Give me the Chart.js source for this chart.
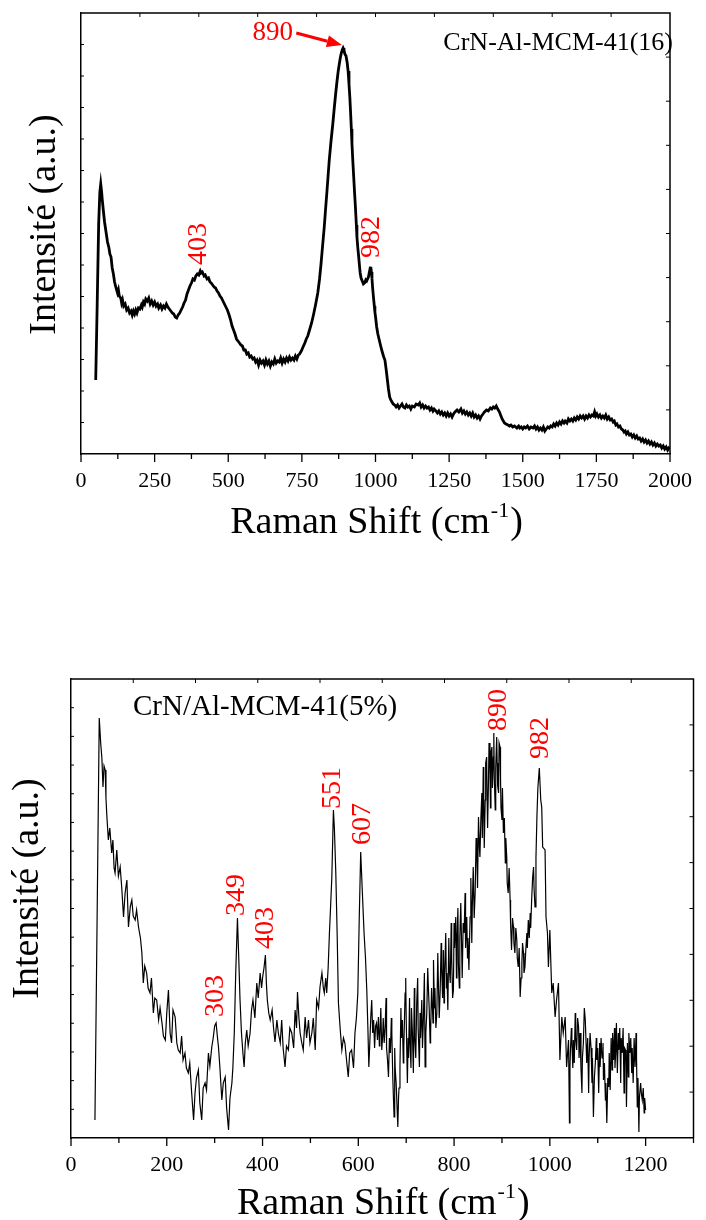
<!DOCTYPE html>
<html>
<head>
<meta charset="utf-8">
<script src="https://cdn.jsdelivr.net/npm/chart.js@4.4.1/dist/chart.umd.min.js"></script>
<style>
  html, body { margin: 0; padding: 0; background: #fff; }
  body { width: 706px; height: 1220px; position: relative; overflow: hidden; }
  canvas { position: absolute; left: 0; }
  #c1 { top: 0; }
  #c2 { top: 600px; }
</style>
</head>
<body>
<canvas id="c1" width="706" height="560"></canvas>
<canvas id="c2" width="706" height="620"></canvas>
<script>
// ---------- Data: top spectrum CrN-Al-MCM-41(16)  [Raman shift, intensity (a.u.)] ----------
const topSpectrum = [
[50,74],[55,150],[60,230],[64,262],[67,270],[70,262],[72,255],[76,243],[80,232],[85,222],[90,212],[95,206],[98,200],[102,197],[106,186],[110,180],[114,172],[119,166],[124,161],[127,164],[130,158],[135,156],[138,151],[141,154],[145,148],[150,150],[155,144],[160,146],[165,141],[170,143],[174,139],[178,143],[182,140],[186,144],[190,141],[195,146],[200,145],[205,149],[208,147],[212,152],[216,150],[220,155],[225,153],[230,156],[235,150],[240,153],[245,149],[250,152],[255,148],[260,150],[264,146],[270,149],[275,145],[280,148],[285,146],[290,150],[295,147],[300,145],[305,143],[310,141],[315,140],[320,137],[325,136],[330,139],[335,141],[340,144],[345,147],[350,151],[355,154],[360,160],[365,164],[370,168],[375,171],[380,175],[385,174],[390,178],[395,180],[400,179],[405,183],[408,181],[412,182],[418,178],[422,179],[428,175],[433,176],[438,172],[442,171],[447,169],[452,167],[457,166],[462,163],[467,161],[472,158],[477,156],[482,153],[487,150],[492,147],[497,144],[503,139],[508,134],[513,128],[518,124],[523,120],[528,115],[533,113],[538,111],[543,109],[548,108],[553,104],[558,104],[563,100],[568,101],[573,97],[578,98],[583,95],[588,96],[593,92],[598,94],[603,89],[608,94],[613,91],[618,93],[623,89],[628,94],[633,90],[638,93],[643,88],[648,92],[653,90],[658,95],[663,91],[668,93],[673,92],[678,96],[683,91],[688,95],[693,92],[698,96],[703,93],[708,97],[713,94],[718,96],[723,94],[728,98],[733,95],[738,99],[742,100],[748,103],[754,107],[760,111],[765,115],[770,118],[776,124],[783,131],[790,140],[797,150],[804,161],[810,175],[815,190],[820,207],[826,227],[830,243],[835,262],[839,278],[843,294],[849,313],[855,330],[860,346],[865,361],[869,372],[873,382],[877,390],[881,397],[884,401],[887,404],[890,406],[893,404],[896,400],[900,398],[904,391],[907,383],[910,370],[913,356],[915,344],[918,325],[920,311],[923,293],[926,277],[929,261],[932,246],[935,229],[937,217],[940,206],[943,197],[946,187],[948,181],[951,176],[955,173],[959,170],[963,171],[967,174],[970,173],[973,175],[976,177],[980,183],[982,186],[984,187],[986,182],[988,176],[990,167],[993,157],[996,148],[998,142],[1001,135],[1004,127],[1008,120],[1012,115],[1016,110],[1021,104],[1025,100],[1028,97],[1032,94],[1036,85],[1040,75],[1044,65],[1048,57],[1052,54],[1056,52],[1060,50],[1065,49],[1070,47],[1075,49],[1080,46],[1085,48],[1090,50],[1095,47],[1100,46],[1105,49],[1110,47],[1115,48],[1120,45],[1125,48],[1132,47],[1138,50],[1145,49],[1150,51],[1155,47],[1160,49],[1165,46],[1170,48],[1175,46],[1180,47],[1185,44],[1190,46],[1195,43],[1199,45],[1205,43],[1210,41],[1215,43],[1220,40],[1225,42],[1230,39],[1235,41],[1240,38],[1245,41],[1250,38],[1255,40],[1260,37],[1265,40],[1270,42],[1277,44],[1283,42],[1290,45],[1295,41],[1300,43],[1305,40],[1310,42],[1315,39],[1320,41],[1325,38],[1330,41],[1335,37],[1340,39],[1345,36],[1350,38],[1355,35],[1360,38],[1365,40],[1370,42],[1377,44],[1383,43],[1390,46],[1395,45],[1400,47],[1405,46],[1410,48],[1415,45],[1421,42],[1426,38],[1430,35],[1434,33],[1438,31],[1443,30],[1450,29],[1455,28],[1460,29],[1466,27],[1472,28],[1480,26],[1486,28],[1490,26],[1495,27],[1500,25],[1505,27],[1510,26],[1516,28],[1522,25],[1528,27],[1535,26],[1540,28],[1545,25],[1550,27],[1555,24],[1560,26],[1565,24],[1570,27],[1575,23],[1580,25],[1585,27],[1590,26],[1595,28],[1600,27],[1605,30],[1610,28],[1615,31],[1620,29],[1625,32],[1630,30],[1635,33],[1640,31],[1644,33],[1650,31],[1655,35],[1660,33],[1665,35],[1670,33],[1675,36],[1680,34],[1685,37],[1690,35],[1695,38],[1700,36],[1705,38],[1710,35],[1715,38],[1720,36],[1725,39],[1730,37],[1735,39],[1740,38],[1744,42],[1748,38],[1752,40],[1757,37],[1762,39],[1767,36],[1772,38],[1777,36],[1782,39],[1787,35],[1792,37],[1797,34],[1802,35],[1807,32],[1811,33],[1816,29],[1820,30],[1825,27],[1830,28],[1835,25],[1840,24],[1844,22],[1848,23],[1852,20],[1857,22],[1862,19],[1867,20],[1872,17],[1877,19],[1882,16],[1887,18],[1892,15],[1897,16],[1902,13],[1907,15],[1912,12],[1917,14],[1922,11],[1927,13],[1932,10],[1937,12],[1942,9],[1947,11],[1952,8],[1957,10],[1962,8],[1967,9],[1972,6],[1977,8],[1982,5],[1987,7],[1992,4],[1996,6],[2000,5]
];

// ---------- Data: bottom spectrum CrN/Al-MCM-41(5%)  [Raman shift, intensity (a.u.)] ----------
const botSpectrum = [
[50,18],[59,420],[62,395],[64.5,380],[66.8,351],[69,372],[71.4,368],[73,340],[75,321],[78,298],[81,310],[85,285],[87.5,298],[90,270],[92,265],[95.6,288],[99,262],[102.7,271],[106,250],[109.7,221],[113,245],[116.7,258],[120,211],[124,232],[127,238],[130,222],[134,218],[137,228],[141,211],[145,200],[148,185],[151,155],[154,172],[158,165],[161,150],[165,145],[168,160],[172,125],[175,140],[179,138],[183,118],[186,130],[190,115],[193,102],[197,98],[200,125],[203.5,148],[207,105],[210,95],[213,128],[217.5,121],[221,95],[224,88],[228,85],[231,102],[234,78],[238,85],[241,70],[245,65],[248,75],[252,45],[256,18],[259,45],[262,60],[266,68],[269,35],[273,18],[276,50],[280,55],[283,48],[287,85],[290,72],[294,91],[297,100],[300,112],[303,115],[306,100],[308,91],[311,70],[315,38],[318,55],[322,61],[325,30],[329,8],[332,40],[336,55],[338,70],[341,105],[344,165],[347.6,220],[350,185],[353,138],[356,105],[359,85],[361.6,71],[364,95],[367,108],[370,92],[374,105],[377,128],[380,138],[384,120],[388,155],[391,140],[395,165],[398,150],[400,160],[403,170],[406,183],[408,155],[410,138],[413,125],[416,118],[420,128],[423,110],[426,96],[430,118],[433,105],[437,95],[440,118],[443,90],[447,71],[450,92],[454,88],[457,110],[461,105],[465,90],[468,128],[471,110],[473,146],[476,120],[478.5,105],[482,95],[485,88],[489,121],[492,100],[496,118],[499,95],[503,105],[506,120],[510,88],[513,138],[517,130],[520,151],[524,165],[527,150],[529,145],[532,160],[534,145],[537,170],[539.7,205],[542,230],[544.7,261],[548,328],[550,310],[553,265],[556,200],[558.5,135],[562,110],[565.6,88],[569,100],[572,95],[575,80],[579,61],[582,85],[586,88],[590,70],[593,105],[596,120],[599,145],[602,221],[605,286],[608.5,245],[612,205],[615,180],[617.7,148],
[620,110],[622,71],[624,95],[626,120],[628,138],[630,105],[632,118],[634,90],[636,112],[638,115],[640,98],[642,121],[644,92],[645,100],[647,130],[649,88],[651,104],[652,120],[654,95],[656,111],[658,140],[659,90],[661,78],[663,61],[665,100],[667,85],[669,120],[670,105],[672,60],[674.7,21],[676,90],[677,70],[679,55],[681,30],[682.5,11],[684,40],[685,50],[687,71],[689,130],[690,100],[692,118],[694,75],[695,90],[697.7,145],[699,160],[700,120],[702.5,55],[704,100],[705,80],[707,140],[708,95],[710,70],[711,130],[713,105],[715,65],[717,150],[718,100],[720,80],[722,135],[724,160],[725,110],[727.6,71],[729,125],[730,100],[732.6,138],[734,90],[736,120],[738,165],[739.5,71],[741,105],[743,125],[745,170],[746,155],[748,130],[750,95],[751,105],[753,150],[754,140],[756,115],[757,178],[759,130],[760,150],[762,110],[764,125],[766,185],[767,160],[769,120],[771,148],[773,195],[774,170],[776,140],[777.6,188],[779,135],[780,160],[782.6,205],[784,150],[785,165],[787,128],[789,200],[790,170],[792,155],[794,215],[795,180],[797,140],[798.6,148],[800,215],[801,190],[803.5,221],[805,160],[806,195],[808,230],[809,175],[811,150],[812,200],[814,235],[816,185],[817,160],[819,215],[821,205],[823,245],[824,190],[826.5,221],[828,180],[829,200],[831,168],[833.4,221],[835,260],[837,195],[838,230],[840,271],[842,220],[844,245],[846,300],[847.6,281],[849,250],[851,321],[853,290],[854,281],[856,320],[858,345],
[859,300],[861,371],[862,330],[863,290],[865,338],[866,375],[868,381],[869,340],[870,310],[872,361],[873,395],[875,368],[876,330],[877,385],[879,391],[880,350],[882,381],[883,405],[884,360],[886,328],[887,370],[889,401],[890,375],[891,352],[893,345],[894,395],[896,391],[897,360],[898,330],[900,318],[901,350],[903,305],[905,320],[907,275],[908,300],[910,281],[911,255],[913,245],[915,270],[917,238],[918,215],[920,188],[922,220],[924,211],[925,195],[927,185],[929,210],[931,198],[932,180],[934,171],[936,190],[938,141],[940,160],[941.6,175],[943,195],[945,185],[946,165],[948,171],[950,190],[952,205],[953,190],[955,218],[957,200],[959,225],[960,210],[962,238],[964,260],[966,271],[967,250],[969,231],[971,280],[973,321],[975,350],[978,370],[981,338],[983,331],[985,291],[990,288],[992,221],[995,205],[997,171],[1000,208],[1004,145],[1007,155],[1011,121],[1014,138],[1018,155],[1021,78],[1025,121],[1028,105],[1032,121],[1035,71],[1039,98],
[1041,15],[1042,70],[1043,88],[1045,110],[1046,95],[1048,70],[1049,98],[1051,75],[1053,125],[1054,100],[1056,88],[1058,120],[1060,111],[1061,80],[1063,105],[1065,70],[1067,45],[1068,80],[1070,95],[1072,130],[1074,118],[1076,90],[1077,75],[1079,100],[1081,45],[1082,80],[1084,105],[1086,90],[1088,55],[1089,80],[1091,21],[1093,60],[1095,75],[1097,100],[1098,78],[1100,90],[1102,45],[1104,95],[1105,71],[1107,100],[1109,80],[1111,95],[1112,58],[1114,75],[1116,38],[1117,55],[1119,15],[1121,60],[1123,51],[1124,85],[1126,48],[1128,100],[1130,68],[1131,105],[1133,78],[1135,110],[1136,70],[1138,91],[1139,115],[1141,65],[1143,105],[1144,88],[1146,110],[1148,55],[1149,100],[1151,85],[1153,110],[1155,45],[1156,90],[1158,88],[1159,70],[1160,31],[1162,95],[1164,61],[1165,105],[1167,85],[1169,100],[1171,65],[1172,90],[1174,55],[1176,100],[1178,71],[1180,105],[1181,80],[1182.6,31],[1184,60],[1186,6],[1187,40],[1189.6,55],[1191,45],[1193,38],[1195,50],[1197,25],[1198,40],[1200,28]
];

// ---------- Axis ranges / tick steps ----------
const topXTicks = { min: 0, max: 2000, major: 250, minor: 125 };
const botXTicks = { min: 0, max: 1300, major: 200, minor: 100 };
const topYRange = { min: 0, max: 441 };
const botYRange = { min: 0, max: 459 };

// ---------- Text ----------
const xTitle = 'Raman Shift (cm';
const xTitleSup = '-1';
const yTitle = 'Intensité (a.u.)';
const topSample = 'CrN-Al-MCM-41(16)';
const botSample = 'CrN/Al-MCM-41(5%)';
// peak labels: [text, x-value, y-value of text centre]
const topPeakLabels = [['403', 401, 210], ['982', 988, 217]];
const topArrowLabel = ['890', 651, 421];
const topArrow = { from: [731, 421], to: [886, 409] };
const botPeakLabels = [['303', 302, 142], ['349', 345, 243], ['403', 407, 210], ['551', 546, 350], ['607', 610, 314], ['890', 894, 428], ['982', 981, 400]];

const SERIF = "'Liberation Serif', 'Times New Roman', serif";

const framePlugin = {
  id: 'frame',
  afterDraw(chart, args, o) {
    const ctx = chart.ctx;
    const a = chart.chartArea;
    const xs = chart.scales.x, ys = chart.scales.y;
    ctx.save();
    ctx.strokeStyle = '#000';
    ctx.lineWidth = 1.5;
    ctx.beginPath();
    ctx.moveTo(a.left, a.top); ctx.lineTo(a.right, a.top); ctx.lineTo(a.right, a.bottom);
    ctx.stroke();
    ctx.lineWidth = 1.3;
    for (let v = o.xt.min; v <= o.xt.max + 1e-6; v += o.xt.minor) {
      const px = xs.getPixelForValue(v);
      const major = Math.abs(v / o.xt.major - Math.round(v / o.xt.major)) < 1e-6;
      ctx.beginPath();
      ctx.moveTo(px, a.bottom); ctx.lineTo(px, a.bottom + (major ? 8 : 5));
      ctx.stroke();
    }
    ctx.lineWidth = 1;
    for (let i = 1; i < o.topDiv; i++) {
      const px = a.left + (a.right - a.left) * i / o.topDiv;
      ctx.beginPath(); ctx.moveTo(px, a.top); ctx.lineTo(px, a.top + 4); ctx.stroke();
    }
    for (let i = 1; i < o.rightDiv; i++) {
      const py = a.top + (a.bottom - a.top) * i / o.rightDiv;
      ctx.beginPath(); ctx.moveTo(a.right, py); ctx.lineTo(a.right - 4, py); ctx.stroke();
    }
    for (let i = 1; i < o.leftDiv; i++) {
      const py = a.top + (a.bottom - a.top) * i / o.leftDiv;
      ctx.beginPath(); ctx.moveTo(a.left, py); ctx.lineTo(a.left + 3, py); ctx.stroke();
    }

    // axis titles
    ctx.fillStyle = '#000';
    ctx.font = '38px ' + SERIF;
    const w1 = ctx.measureText(xTitle).width;
    ctx.font = '22px ' + SERIF;
    const w2 = ctx.measureText(xTitleSup).width;
    ctx.font = '38px ' + SERIF;
    const w3 = ctx.measureText(')').width;
    const cx = (a.left + a.right) / 2;
    const sx = cx - (w1 + w2 + w3) / 2;
    const by = a.bottom + o.xTitleOffset;
    ctx.textAlign = 'left'; ctx.textBaseline = 'alphabetic';
    ctx.fillText(xTitle, sx, by);
    ctx.font = '22px ' + SERIF;
    ctx.fillText(xTitleSup, sx + w1 + 1, by - 16);
    ctx.font = '38px ' + SERIF;
    ctx.fillText(')', sx + w1 + w2 + 2, by);

    ctx.save();
    ctx.translate(o.yTitleX, (a.top + a.bottom) / 2 + o.yTitleDy);
    ctx.rotate(-Math.PI / 2);
    ctx.textAlign = 'center'; ctx.textBaseline = 'middle';
    ctx.font = '38px ' + SERIF;
    ctx.fillText(yTitle, 0, 0);
    ctx.restore();

    // sample label
    ctx.font = o.sampleSize + 'px ' + SERIF;
    ctx.textAlign = o.sampleAlign; ctx.textBaseline = 'alphabetic';
    ctx.fillText(o.sample, o.sampleX, o.sampleY);

    // red peak labels (rotated)
    ctx.fillStyle = '#ff0000';
    ctx.font = '28px ' + SERIF;
    for (const [t, vx, vy] of o.peaks) {
      ctx.save();
      ctx.translate(xs.getPixelForValue(vx), ys.getPixelForValue(vy));
      ctx.rotate(-Math.PI / 2);
      ctx.textAlign = 'center'; ctx.textBaseline = 'middle';
      ctx.fillText(t, 0, 0);
      ctx.restore();
    }
    if (o.arrowLabel) {
      const [t, vx, vy] = o.arrowLabel;
      ctx.font = '27px ' + SERIF;
      ctx.textAlign = 'center'; ctx.textBaseline = 'middle';
      ctx.fillText(t, xs.getPixelForValue(vx), ys.getPixelForValue(vy));
      const x0 = xs.getPixelForValue(o.arrow.from[0]), y0 = ys.getPixelForValue(o.arrow.from[1]);
      const x1 = xs.getPixelForValue(o.arrow.to[0]), y1 = ys.getPixelForValue(o.arrow.to[1]);
      const ang = Math.atan2(y1 - y0, x1 - x0);
      const hl = 15, hw = 6;
      const bx = x1 - hl * Math.cos(ang), byy = y1 - hl * Math.sin(ang);
      ctx.strokeStyle = '#ff0000'; ctx.lineWidth = 3;
      ctx.beginPath(); ctx.moveTo(x0, y0); ctx.lineTo(bx, byy); ctx.stroke();
      ctx.beginPath();
      ctx.moveTo(x1, y1);
      ctx.lineTo(bx + hw * Math.sin(ang), byy - hw * Math.cos(ang));
      ctx.lineTo(bx - hw * Math.sin(ang), byy + hw * Math.cos(ang));
      ctx.closePath(); ctx.fill();
    }
    ctx.restore();
  }
};

function makeChart(id, series, xt, yr, lw, pad, yAxisW, xAxisH, frameOpts) {
  return new Chart(document.getElementById(id), {
    type: 'line',
    data: { datasets: [{ data: series.map(p => ({ x: p[0], y: p[1] })), borderColor: '#000', borderWidth: lw, pointRadius: 0, tension: 0, fill: false, borderJoinStyle: 'miter' }] },
    options: {
      responsive: false, animation: false, events: [],
      layout: { padding: pad },
      plugins: { legend: { display: false }, tooltip: { enabled: false }, frame: frameOpts },
      scales: {
        x: {
          type: 'linear', min: xt.min, max: xt.max,
          ticks: { stepSize: xt.major, includeBounds: false, color: '#000', padding: 14, maxRotation: 0, autoSkip: false,
                   font: { family: SERIF, size: 22 }, callback: v => String(v) },
          grid: { display: false, drawTicks: false },
          border: { display: true, color: '#000', width: 1.5 },
          afterFit(s) { s.height = xAxisH; }
        },
        y: {
          min: yr.min, max: yr.max,
          ticks: { display: false },
          grid: { display: false, drawTicks: false },
          border: { display: true, color: '#000', width: 1.5 },
          afterFit(s) { s.width = yAxisW; }
        }
      }
    },
    plugins: [framePlugin]
  });
}

makeChart('c1', topSpectrum, topXTicks, topYRange, 2.8,
  { top: 13, right: 26, left: 0, bottom: 0 }, 81, 106,
  { xt: topXTicks, topDiv: 10, rightDiv: 10, leftDiv: 14, xTitleOffset: 79, yTitleX: 45, yTitleDy: -9,
    sample: topSample, sampleSize: 26, sampleAlign: 'right', sampleX: 673, sampleY: 50,
    peaks: topPeakLabels, arrowLabel: topArrowLabel, arrow: topArrow });

makeChart('c2', botSpectrum, botXTicks, botYRange, 1.2,
  { top: 79, right: 12.5, left: 0, bottom: 0 }, 71, 82,
  { xt: botXTicks, topDiv: 10, rightDiv: 10, leftDiv: 16, xTitleOffset: 76, yTitleX: 28, yTitleDy: -20,
    sample: botSample, sampleSize: 29, sampleAlign: 'left', sampleX: 133, sampleY: 115,
    peaks: botPeakLabels });
</script>
</body>
</html>
